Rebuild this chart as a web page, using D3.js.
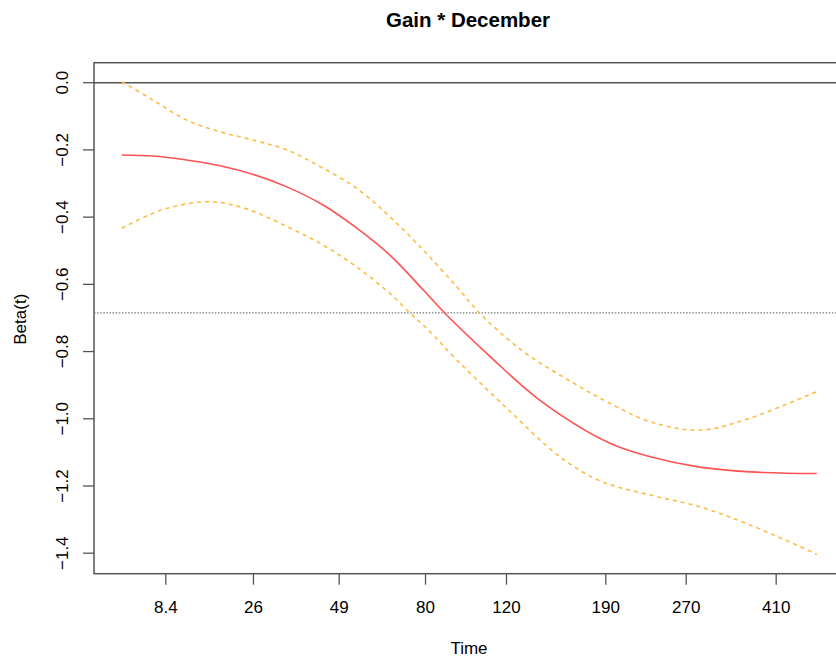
<!DOCTYPE html>
<html lang="en">
<head>
    <meta charset="UTF-8">
    <title>Gain * December</title>
    <script src="https://d3js.org/d3.v7.min.js"></script>
    <style>
        body { margin: 0; background: #fff; }
        text { font-family: "Liberation Sans", Arial, sans-serif; fill: #000; }
    </style>
</head>
<body>
<svg width="836" height="658"></svg>
<script>
    // x is the transformed time (0..1), labels show the real time
    const xTickPos = [0.0624, 0.1883, 0.3114, 0.4354, 0.5517, 0.6943, 0.8098, 0.9390];
    const xTickLabels = ["8.4", "26", "49", "80", "120", "190", "270", "410"];
    const yTicks = [0.0, -0.2, -0.4, -0.6, -0.8, -1.0, -1.2, -1.4];

    const betaX = [0, 0.045, 0.093, 0.141, 0.189, 0.237, 0.289, 0.337, 0.385, 0.433, 0.464, 0.529, 0.601, 0.701, 0.759, 0.830, 0.902, 0.998];
    const betaY = [-0.215, -0.218, -0.230, -0.247, -0.273, -0.310, -0.364, -0.432, -0.513, -0.617, -0.686, -0.815, -0.946, -1.073, -1.113, -1.144, -1.158, -1.163];

    const upperX = [0, 0.045, 0.093, 0.141, 0.189, 0.237, 0.285, 0.337, 0.385, 0.433, 0.481, 0.514, 0.576, 0.648, 0.701, 0.759, 0.830, 0.902, 0.998];
    const upperY = [0.003, -0.052, -0.111, -0.146, -0.171, -0.200, -0.250, -0.314, -0.399, -0.498, -0.607, -0.686, -0.799, -0.893, -0.954, -1.009, -1.034, -0.998, -0.919];

    const lowerX = [0, 0.057, 0.124, 0.177, 0.242, 0.289, 0.337, 0.385, 0.414, 0.438, 0.481, 0.553, 0.629, 0.687, 0.759, 0.830, 0.902, 0.998];
    const lowerY = [-0.433, -0.379, -0.354, -0.374, -0.433, -0.483, -0.548, -0.627, -0.686, -0.731, -0.825, -0.969, -1.113, -1.185, -1.227, -1.262, -1.316, -1.403];

    const meanBeta = -0.685;

    const svg = d3.select("svg");
    const pLeft = 94, pRight = 846, pTop = 62.7, pBottom = 573.7;

    const x = d3.scaleLinear().domain([-0.04, 1.04]).range([pLeft, pRight]);
    const y = d3.scaleLinear().domain([-1.461, 0.0595]).range([pBottom, pTop]);

    // title
    svg.append("text")
        .attr("x", (pLeft + pRight) / 2 - 2)
        .attr("y", 20)
        .attr("dy", "0.35em")
        .attr("text-anchor", "middle")
        .attr("font-size", "20.5px")
        .attr("font-weight", "bold")
        .text("Gain * December");

    // box (right side falls outside the window)
    svg.append("rect")
        .attr("x", pLeft).attr("y", pTop)
        .attr("width", pRight - pLeft).attr("height", pBottom - pTop)
        .attr("fill", "none")
        .attr("stroke", "#555")
        .attr("stroke-width", 1.5);

    // x axis
    const xAxis = svg.append("g")
        .attr("transform", `translate(0,${pBottom})`)
        .call(d3.axisBottom(x).tickValues(xTickPos)
            .tickFormat((d, i) => xTickLabels[i]).tickSize(11).tickPadding(16));
    xAxis.select(".domain").remove();
    xAxis.selectAll("line").attr("stroke", "#555").attr("stroke-width", 1.3);
    xAxis.selectAll("text").attr("font-size", "17px").attr("font-family", "Liberation Sans, Arial, sans-serif");

    // y axis
    const yAxis = svg.append("g")
        .attr("transform", `translate(${pLeft},0)`)
        .call(d3.axisLeft(y).tickValues(yTicks).tickFormat(d3.format(".1f")).tickSize(11));
    yAxis.select(".domain").remove();
    yAxis.selectAll("line").attr("stroke", "#555").attr("stroke-width", 1.3);
    yAxis.selectAll(".tick").attr("transform", null);
    yAxis.selectAll(".tick line")
        .attr("y1", d => y(d)).attr("y2", d => y(d));
    yAxis.selectAll("text")
        .attr("font-size", "17px")
        .attr("font-family", "Liberation Sans, Arial, sans-serif")
        .attr("text-anchor", "middle")
        .attr("dy", null)
        .attr("dominant-baseline", "central")
        .attr("x", null)
        .attr("y", null)
        .attr("transform", d => `translate(${62.5 - pLeft},${y(d)}) rotate(-90)`);

    // axis titles
    svg.append("text")
        .attr("x", 469)
        .attr("y", 648)
        .attr("dy", "0.35em")
        .attr("text-anchor", "middle")
        .attr("font-size", "17px")
        .text("Time");

    svg.append("text")
        .attr("transform", `translate(20,${(pTop + pBottom) / 2 + 1}) rotate(-90)`)
        .attr("dy", "0.35em")
        .attr("text-anchor", "middle")
        .attr("font-size", "17px")
        .text("Beta(t)");

    // reference lines
    svg.append("line")
        .attr("x1", pLeft).attr("x2", pRight)
        .attr("y1", y(0)).attr("y2", y(0))
        .attr("stroke", "#555").attr("stroke-width", 1.5);

    svg.append("line")
        .attr("x1", pLeft).attr("x2", pRight)
        .attr("y1", y(meanBeta)).attr("y2", y(meanBeta))
        .attr("stroke", "#777").attr("stroke-width", 1.4)
        .attr("stroke-dasharray", "1.5,1.6");

    const line = d3.line()
        .x(d => x(d[0]))
        .y(d => y(d[1]))
        .curve(d3.curveCatmullRom.alpha(0.5));

    const zip = (a, b) => a.map((v, i) => [v, b[i]]);

    svg.append("path")
        .datum(zip(upperX, upperY))
        .attr("fill", "none").attr("stroke", "#ffbb44").attr("stroke-width", 1.6)
        .attr("stroke-dasharray", "4,4")
        .attr("d", line);

    svg.append("path")
        .datum(zip(lowerX, lowerY))
        .attr("fill", "none").attr("stroke", "#ffbb44").attr("stroke-width", 1.6)
        .attr("stroke-dasharray", "4,4")
        .attr("d", line);

    svg.append("path")
        .datum(zip(betaX, betaY))
        .attr("fill", "none").attr("stroke", "#ff5252").attr("stroke-width", 1.6)
        .attr("d", line);
</script>
</body>
</html>
